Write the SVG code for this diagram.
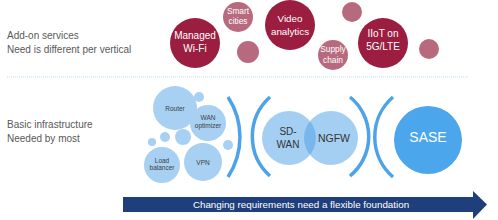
<svg xmlns="http://www.w3.org/2000/svg" width="498" height="220" viewBox="0 0 498 220">
<style>
text{font-family:"Liberation Sans",Arial,sans-serif;text-anchor:middle}
.lbl{fill:#595959;font-size:10px;text-anchor:start}
.dark{fill:#9B1D3F}
.pink{fill:#B76A7E}
.wt{fill:#fff}
.lb{fill:#A7D0F3}
.bt{fill:#404040;font-size:6.5px}
.arc{fill:none;stroke:#4CA3EA;stroke-width:3.5}
.ov{fill:#4B9FE5;fill-opacity:0.5}
</style>
<rect width="498" height="220" fill="#fff"/>
<g id="labels">
<text class="lbl" x="7" y="39">Add-on services</text>
<text class="lbl" x="7" y="53">Need is different per vertical</text>
<text class="lbl" x="7" y="128">Basic infrastructure</text>
<text class="lbl" x="7" y="142">Needed by most</text>
</g>
<line x1="7" y1="77" x2="469" y2="77" stroke="#BFDCEC" stroke-width="1" stroke-dasharray="1 1"/>
<g id="managed-wifi"><circle class="dark" cx="195" cy="43" r="25"/><text class="wt" font-size="10" x="195" y="39">Managed</text><text class="wt" font-size="10" x="195" y="52">Wi-Fi</text></g>
<g id="smart-cities"><circle class="pink" cx="238" cy="17" r="15"/><text class="wt" font-size="8.3" x="238" y="14">Smart</text><text class="wt" font-size="8.3" x="238" y="24">cities</text></g>
<g id="dot1"><circle class="pink" cx="248" cy="52" r="11"/></g>
<g id="video-analytics"><circle class="dark" cx="290" cy="25" r="25"/><text class="wt" font-size="9.8" x="290" y="22">Video</text><text class="wt" font-size="9.8" x="290" y="35">analytics</text></g>
<g id="supply-chain"><circle class="pink" cx="333" cy="55" r="15"/><text class="wt" font-size="8.3" x="333" y="52">Supply</text><text class="wt" font-size="8.3" x="333" y="63">chain</text></g>
<g id="dot2"><circle class="pink" cx="352" cy="12" r="10"/></g>
<g id="iiot"><circle class="dark" cx="383" cy="43" r="25"/><text class="wt" font-size="10" x="383" y="37">IIoT on</text><text class="wt" font-size="10" x="383" y="50">5G/LTE</text></g>
<g id="dot3"><circle class="pink" cx="429" cy="49" r="10"/></g>

<g id="router"><circle class="lb" cx="175" cy="108" r="22"/><text class="bt" x="175" y="111">Router</text></g>
<g id="wan-opt"><circle class="lb" cx="208" cy="123" r="18"/><text class="bt" x="208" y="120">WAN</text><text class="bt" font-size="6" x="208" y="128">optimizer</text></g>
<g id="small-dots"><circle class="lb" cx="199" cy="97" r="5"/><circle class="lb" cx="152" cy="142" r="4"/><circle class="lb" cx="165" cy="137" r="5"/><circle class="lb" cx="183" cy="137" r="8"/><circle class="lb" cx="228" cy="145" r="5"/></g>
<g id="load-balancer"><circle class="lb" cx="162" cy="165" r="18"/><text class="bt" font-size="6" x="162" y="163">Load</text><text class="bt" font-size="6" x="162" y="170">balancer</text></g>
<g id="vpn"><circle class="lb" cx="203" cy="162" r="19"/><text class="bt" x="203" y="165">VPN</text></g>

<g id="sdwan-ngfw">
<circle class="ov" cx="289" cy="138" r="27"/>
<circle class="ov" cx="331" cy="138" r="27"/>
<text fill="#333" font-size="10" x="288" y="135">SD-</text>
<text fill="#333" font-size="10" x="288" y="148">WAN</text>
<text fill="#333" font-size="10.5" x="334" y="142">NGFW</text>
</g>
<g id="sase"><circle fill="#4BA6EC" cx="428" cy="140" r="34"/><text class="wt" font-size="14" x="428" y="142">SASE</text></g>

<g id="connectors">
<path class="arc" d="M228,97 A73,73 0 0 1 228,177"/>
<path class="arc" d="M270,97 A53,53 0 0 0 270,176"/>
<path class="arc" d="M350,97 A51,51 0 0 1 350,176"/>
<path class="arc" d="M393,97 A53,53 0 0 0 393,177"/>
</g>

<g id="arrow">
<path d="M123,197 H473 V191 L487,204.5 L473,219 V212 H123 Z" fill="#1F3E7C"/>
<text class="wt" font-size="9.8" x="301" y="208">Changing requirements need a flexible foundation</text>
</g>
</svg>
